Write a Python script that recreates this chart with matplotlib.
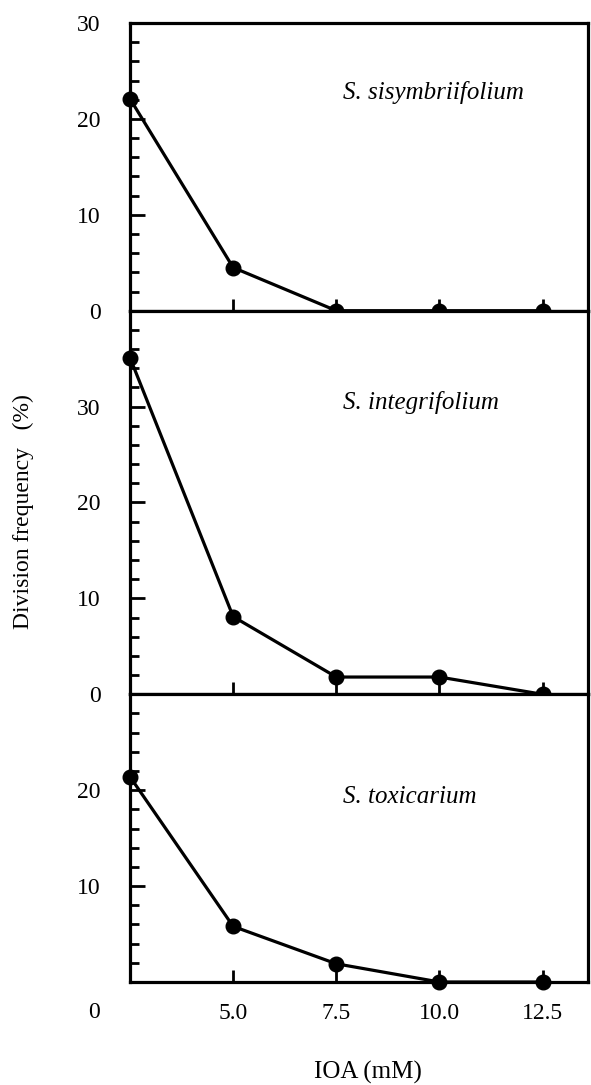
import matplotlib
matplotlib.use("Agg")
import matplotlib.pyplot as plt
from matplotlib.ticker import MultipleLocator, FixedLocator

plt.rcParams['font.family'] = ['Liberation Serif', 'DejaVu Serif']

ioa = [2.5, 5.0, 7.5, 10.0, 12.5]
sisymbriifolium = [22.1, 4.5, 0.0, 0.0, 0.0]
integrifolium = [35.1, 8.1, 1.8, 1.8, 0.0]
toxicarium = [21.4, 5.8, 1.9, 0.0, 0.0]

species = ["S. sisymbriifolium", "S. integrifolium", "S. toxicarium"]
series = [sisymbriifolium, integrifolium, toxicarium]
ymax = [30, 40, 30]
ylabels_shown = [[0, 10, 20, 30], [0, 10, 20, 30], [10, 20]]
xticks = [5.0, 7.5, 10.0, 12.5]
xticklabels = ["5.0", "7.5", "10.0", "12.5"]

W, H = 591, 1085
fig = plt.figure(figsize=(W / 100, H / 100), dpi=100)
gs = fig.add_gridspec(3, 1, height_ratios=ymax, hspace=0,
                      left=130 / W, right=588 / W, top=1 - 23 / H, bottom=1 - 982 / H)

label_y_px = [92 - 23, 402 - 310, 797 - 695]
panel_h_px = [287, 385, 287]

axes = []
for i in range(3):
    ax = fig.add_subplot(gs[i, 0])
    axes.append(ax)
    ax.plot(ioa, series[i], color='black', lw=2.3, marker='o', ms=10.5,
            markerfacecolor='black', clip_on=False, zorder=5)
    ax.set_xlim(2.5, 13.6)
    ax.set_ylim(0, ymax[i])
    ax.yaxis.set_major_locator(FixedLocator(ylabels_shown[i]))
    ax.yaxis.set_minor_locator(MultipleLocator(2))
    ax.xaxis.set_major_locator(FixedLocator(xticks))
    ax.tick_params(axis='both', which='both', direction='in', top=False, right=False,
                   width=2.0, labelsize=17)
    ax.tick_params(axis='y', which='major', length=11, pad=21)
    ax.tick_params(axis='y', which='minor', length=6.5)
    ax.tick_params(axis='x', which='major', length=9, pad=15)
    for s in ax.spines.values():
        s.set_linewidth(2.3)
    if i < 2:
        ax.set_xticklabels([])
    else:
        ax.set_xticklabels(xticklabels)
    ax.text(0.465, 1 - label_y_px[i] / panel_h_px[i], species[i], transform=ax.transAxes,
            fontsize=18, style='italic', ha='left', va='center')

fig.text(100 / W, 1 - 1013 / H, "0", fontsize=17, ha='right', va='center')
fig.text(23 / W, 1 - 512 / H, "Division frequency   (%)", fontsize=17,
         rotation=90, ha='center', va='center')
fig.text(368 / W, 1 - 1072 / H, "IOA (mM)", fontsize=18, ha='center', va='center')

fig.savefig("out.png", dpi=100)
